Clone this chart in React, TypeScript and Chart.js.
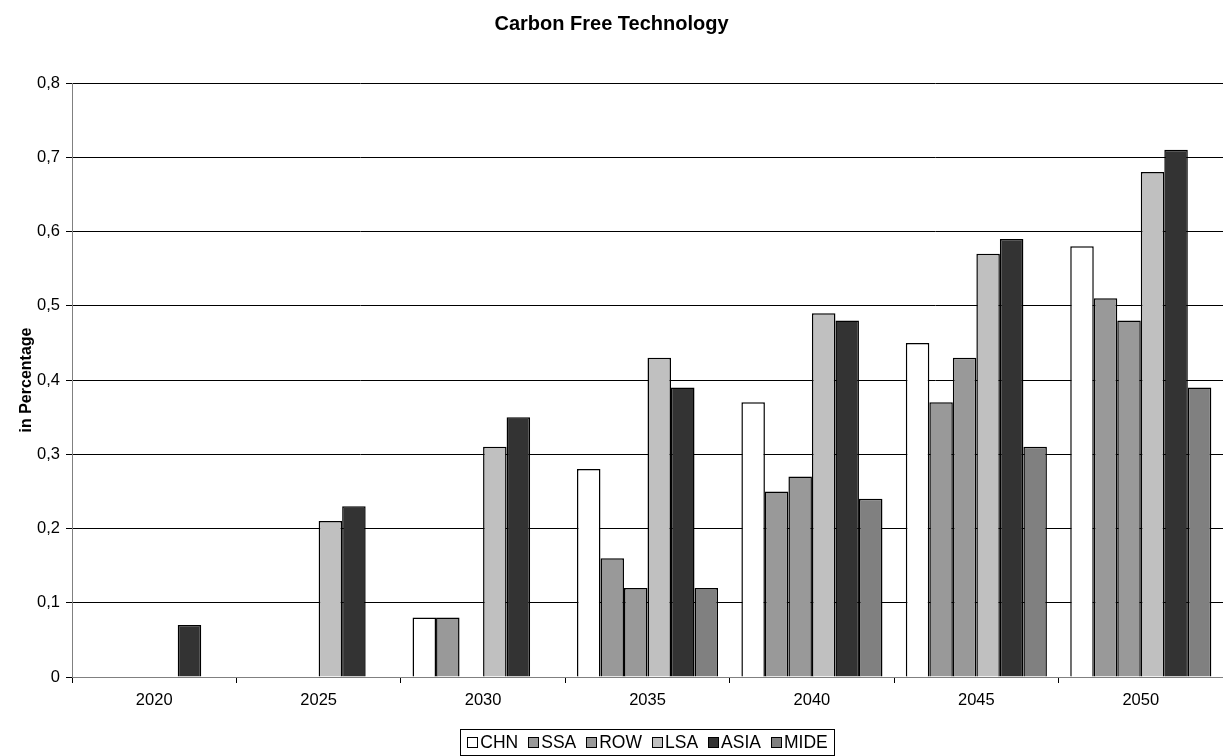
import React, { useEffect, useRef } from "react";
import { Chart, registerables } from "chart.js";

Chart.register(...registerables);

const FONT = "'Liberation Sans', Arial, Helvetica, sans-serif";

const TITLE = "Carbon Free Technology";
const Y_TITLE = "in Percentage";

const categories = ["2020", "2025", "2030", "2035", "2040", "2045", "2050"];
const seriesNames = ["CHN", "SSA", "ROW", "LSA", "ASIA", "MIDE"];

const CHN = [null, null, 0.08, 0.28, 0.37, 0.45, 0.58];
const SSA = [null, null, 0.08, 0.16, 0.25, 0.37, 0.51];
const ROW = [null, null, null, 0.12, 0.27, 0.43, 0.48];
const LSA = [null, 0.21, 0.31, 0.43, 0.49, 0.57, 0.68];
const ASIA = [0.07, 0.23, 0.35, 0.39, 0.48, 0.59, 0.71];
const MIDE = [null, null, null, 0.12, 0.24, 0.31, 0.39];

const seriesValues = [CHN, SSA, ROW, LSA, ASIA, MIDE];
const seriesColors = ["#FFFFFF", "#999999", "#999999", "#C0C0C0", "#333333", "#808080"];

const yTickValues = [0, 0.1, 0.2, 0.3, 0.4, 0.5, 0.6, 0.7, 0.8];
const yTickLabels = ["0", "0,1", "0,2", "0,3", "0,4", "0,5", "0,6", "0,7", "0,8"];

const decorPlugin = {
  id: "decor",
  afterDraw(chart: any) {
    const ctx = chart.ctx as CanvasRenderingContext2D;
    const ca = chart.chartArea;
    ctx.save();
    ctx.fillStyle = "#000";
    // title
    ctx.font = `bold 20px ${FONT}`;
    ctx.textAlign = "center";
    ctx.textBaseline = "middle";
    ctx.fillText(TITLE, chart.width / 2, 24);
    // y axis title
    ctx.save();
    ctx.translate(27, (ca.top + ca.bottom) / 2);
    ctx.rotate(-Math.PI / 2);
    ctx.font = `bold 16px ${FONT}`;
    ctx.fillText(Y_TITLE, 0, 0);
    ctx.restore();
    // legend
    ctx.font = `17.5px ${FONT}`;
    const box = 11;
    const gap = 2;
    const spacing = 10;
    const padX = 7;
    const ds = chart.data.datasets;
    const widths = ds.map((d: any) => ctx.measureText(d.label).width);
    const total =
      widths.reduce((a: number, w: number) => a + box + gap + w, 0) + spacing * (ds.length - 1);
    let x = (ca.left + ca.right) / 2 - total / 2;
    const yMid = 742;
    ctx.strokeStyle = "#000";
    ctx.lineWidth = 1;
    ctx.strokeRect(Math.round(x - padX) + 0.5, 729.5, Math.round(total + 2 * padX), 26);
    ctx.textAlign = "left";
    ds.forEach((d: any, i: number) => {
      const bx = Math.round(x) + 0.5;
      const by = Math.round(yMid - box / 2) + 0.5;
      ctx.fillStyle = d.backgroundColor;
      ctx.fillRect(bx, by, box - 1, box - 1);
      ctx.strokeStyle = "#000";
      ctx.strokeRect(bx, by, box - 1, box - 1);
      ctx.fillStyle = "#000";
      ctx.fillText(d.label, x + box + gap, yMid + 1);
      x += box + gap + widths[i] + spacing;
    });
    ctx.restore();
  },
};

export default function App() {
  const ref = useRef<HTMLCanvasElement>(null);

  useEffect(() => {
    if (!ref.current) return;
    const chart = new Chart(ref.current, {
      type: "bar",
      data: {
        labels: categories,
        datasets: seriesNames.map((name, i) => ({
          label: name,
          data: seriesValues[i],
          backgroundColor: seriesColors[i],
          borderColor: "#000",
          borderWidth: 1.5,
          categoryPercentage: 0.858,
          barPercentage: 1,
        })),
      },
      options: {
        animation: false,
        responsive: false,
        devicePixelRatio: 1,
        layout: { padding: { top: 83, left: 0, right: 0, bottom: 39 } },
        plugins: {
          legend: { display: false },
          title: { display: false },
          tooltip: { enabled: false },
        },
        scales: {
          x: {
            grid: {
              display: true,
              drawOnChartArea: false,
              offset: true,
              tickLength: 6,
              color: "#000",
            },
            border: { display: true, color: "#808080", width: 1 },
            ticks: {
              font: { size: 16.5, family: FONT },
              color: "#000",
              padding: 8,
              maxRotation: 0,
            },
            afterFit: (s: any) => {
              s.height = 40;
            },
          },
          y: {
            min: 0,
            max: 0.8,
            afterBuildTicks: (s: any) => {
              s.ticks = yTickValues.map((v) => ({ value: v }));
            },
            ticks: {
              font: { size: 16.5, family: FONT },
              color: "#000",
              padding: 6,
              callback: (_v: any, i: number) => yTickLabels[i],
            },
            grid: { color: "#000", tickLength: 6, lineWidth: 1 },
            border: { display: true, color: "#808080", width: 1 },
            afterFit: (s: any) => {
              s.width = 72;
            },
          },
        },
      },
      plugins: [decorPlugin],
    });
    return () => chart.destroy();
  }, []);

  return (
    <div style={{ position: "absolute", left: 0, top: 0, width: 1223, height: 756 }}>
      <canvas ref={ref} width={1223} height={756} />
    </div>
  );
}
